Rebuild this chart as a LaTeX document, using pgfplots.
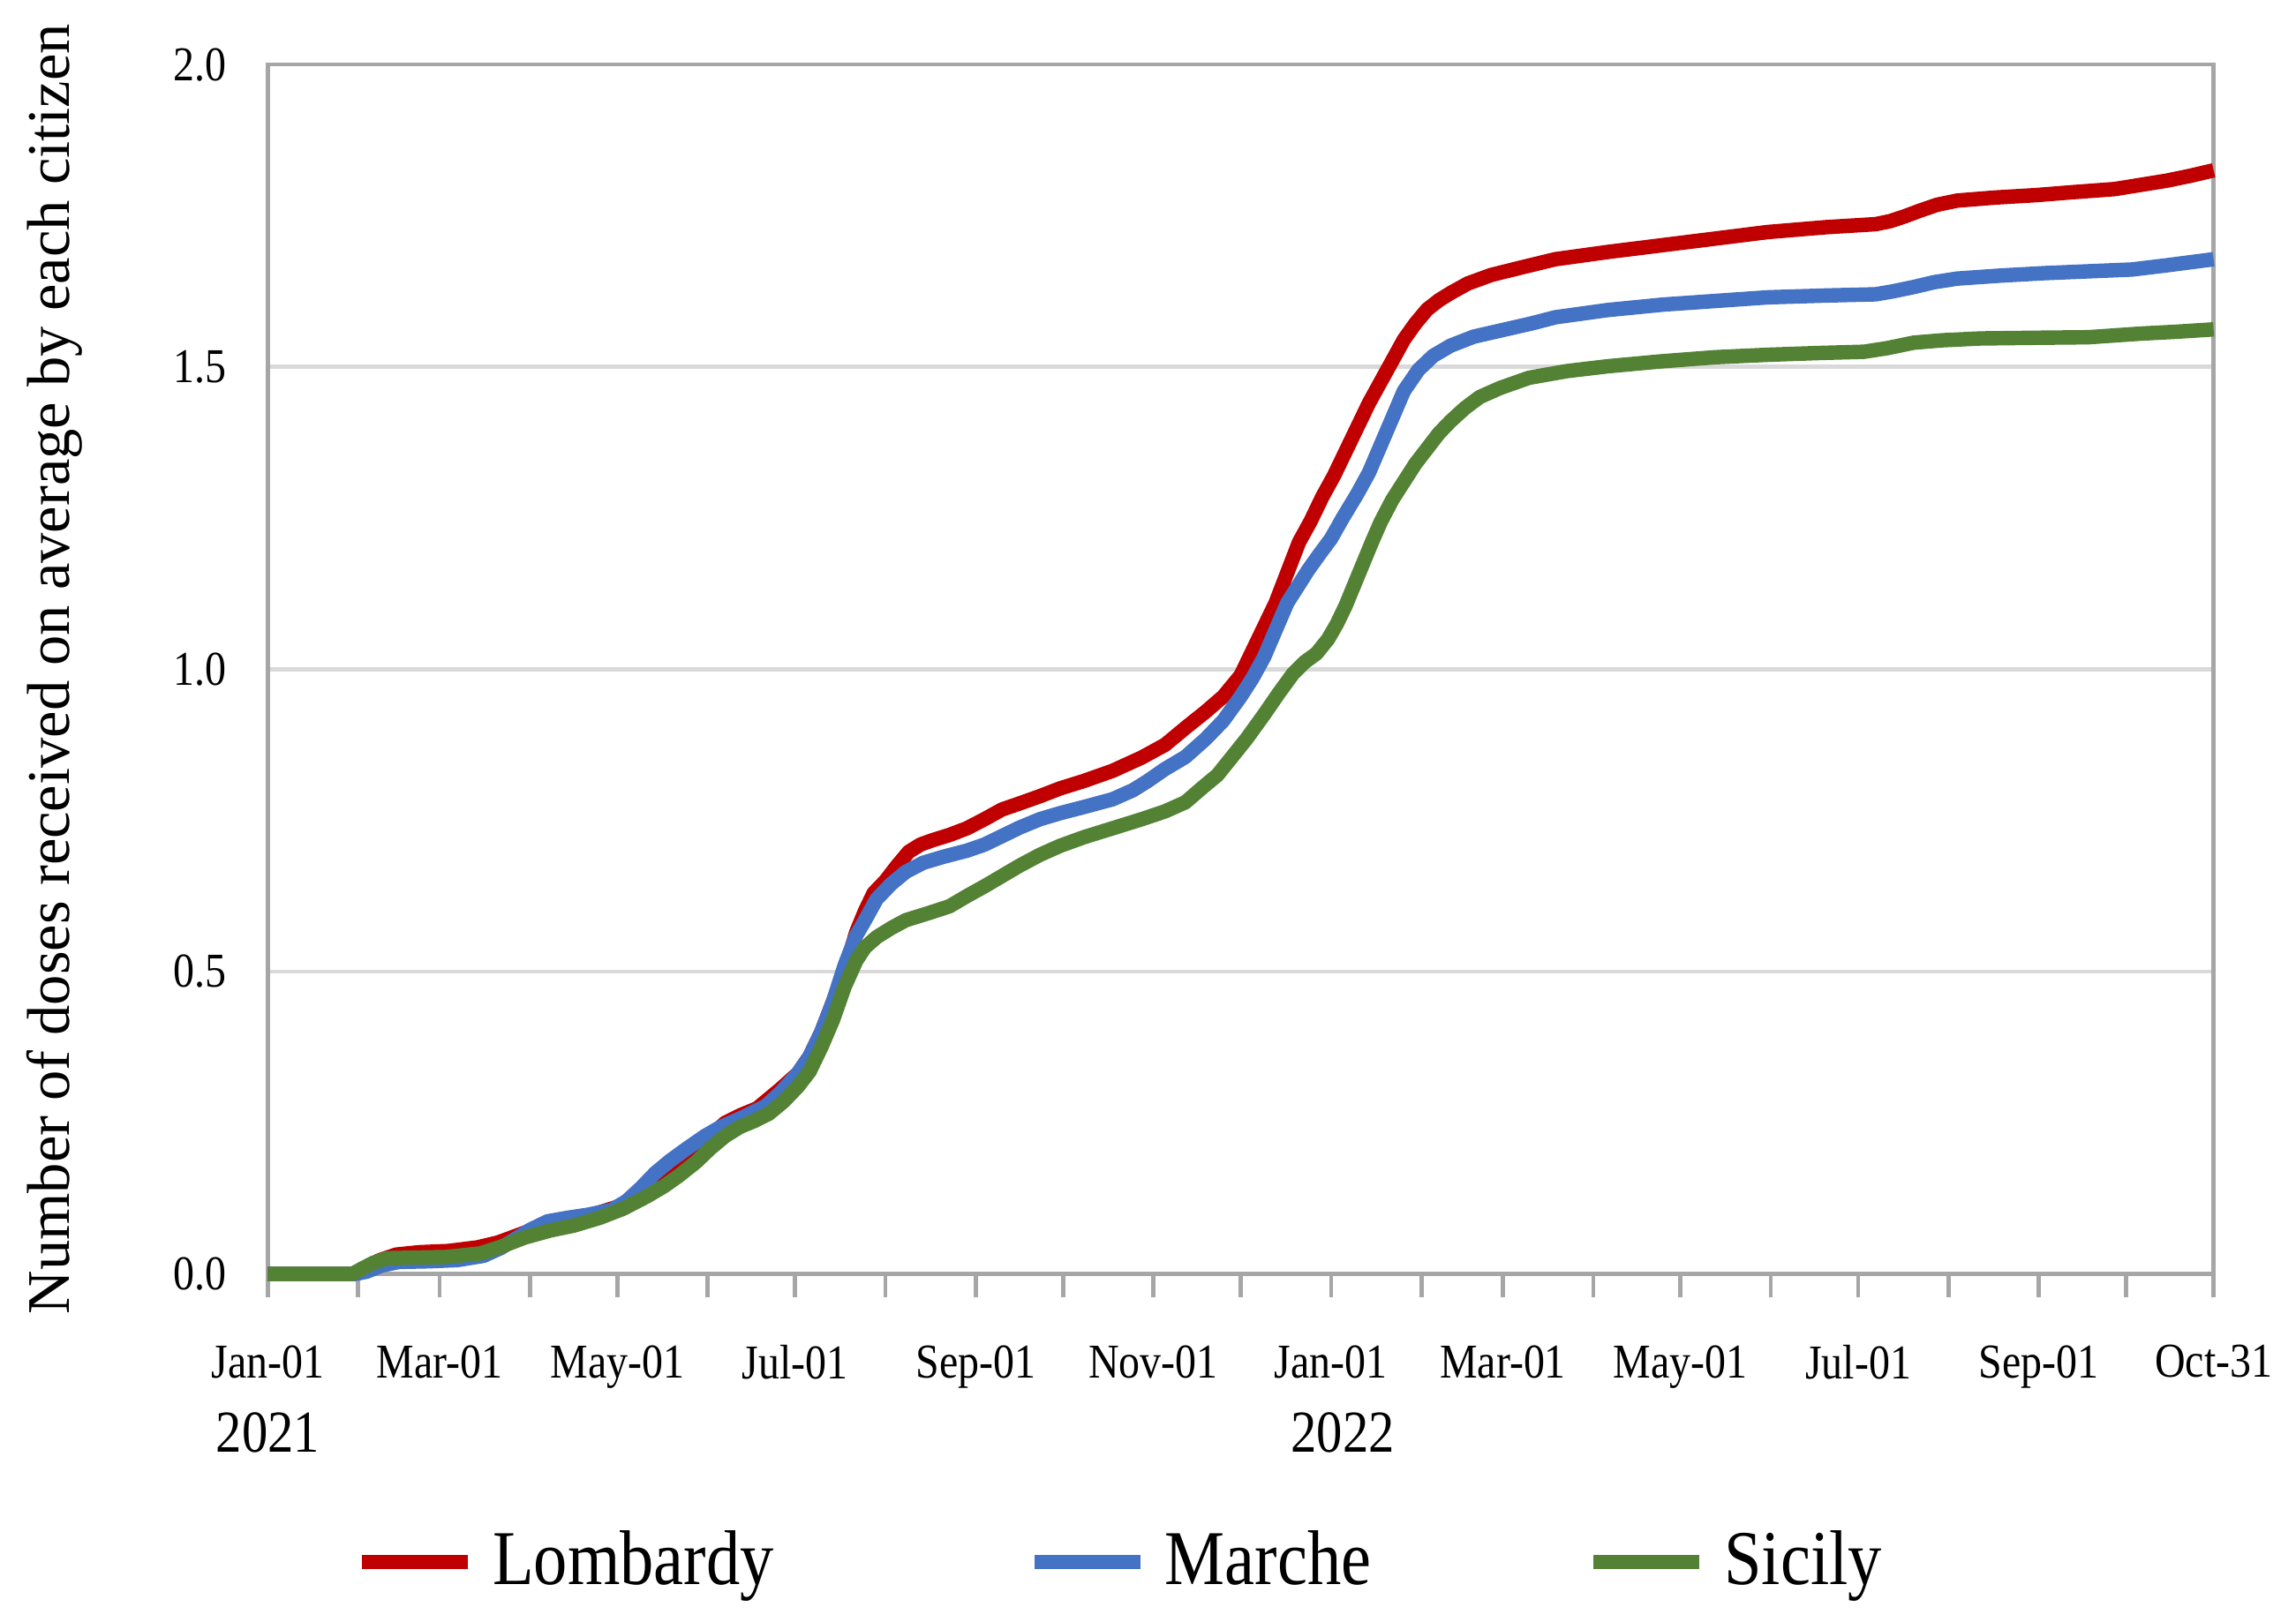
\documentclass[border=0pt]{standalone}
\usepackage{pgfplots}
\pgfplotsset{compat=1.18}
\usepackage{fontspec}
\setmainfont{Liberation Serif}[FakeStretch=0.87]
\newfontfamily\labelfont{Liberation Serif}

\definecolor{lomb}{HTML}{C00000}
\definecolor{marc}{HTML}{4472C4}
\definecolor{sici}{HTML}{548235}
\definecolor{frame}{HTML}{A6A6A6}
\definecolor{gridc}{HTML}{D9D9D9}

\begin{document}
\begin{tikzpicture}
\path[use as bounding box] (-1.82,-2.36) rectangle (13.78,8.66);
\begin{axis}[
    at={(0,0.04)}, anchor=south west,
    width=13.22cm, height=8.22cm, scale only axis,
    xmin=0, xmax=668, ymin=0, ymax=2,
    clip=false,
    axis line style={draw=frame, line width=0.8pt},
    xtick={0,59,120,181,243,304,365,424,485,546,608,668},
    xticklabels={Jan-01,Mar-01,May-01,Jul-01,Sep-01,Nov-01,Jan-01,Mar-01,May-01,Jul-01,Sep-01,Oct-31},
    minor xtick={31,90,151,212,273,334,396,455,516,577,638},
    tick align=outside,
    major tick length=0.16cm, minor tick length=0.16cm,
    xtick style={draw=frame, line width=0.8pt},
    minor tick style={draw=frame, line width=0.8pt},
    xtick pos=bottom,
    ytick={0,0.5,1,1.5,2},
    ytick style={draw=none},
    yticklabel style={/pgf/number format/.cd, fixed, fixed zerofill, precision=1},
    /pgf/number format/assume math mode=true,
    xticklabel style={yshift=-0.2cm},
    tick label style={font=\fontsize{9.4}{11}\selectfont},
    ymajorgrids, grid style={draw=gridc, line width=0.8pt},
    ylabel={Number of doses received on average by each citizen},
    ylabel style={font=\labelfont\fontsize{11.7}{13}\selectfont, at={(axis description cs:-0.0860,0.5)}, anchor=south, rotate=0},
    legend style={at={(0.0440,-0.238)}, anchor=west, legend columns=3, draw=none, inner sep=0pt,
        font=\fontsize{15}{17}\selectfont},
    legend image code/.code={\draw[#1] (0cm,0cm) -- (0.72cm,0cm);},
    every axis plot/.append style={line width=2.8pt, line join=round},
]

% Lombardy
\addplot[color=lomb] coordinates {
(0,0)(29,0)(33,0.008)(38,0.022)(44,0.032)(52,0.036)(62,0.038)(72,0.044)(79,0.052)
(88,0.068)(96,0.082)(104,0.09)(112,0.099)(122,0.114)(128,0.125)(134,0.142)
(139,0.162)(144,0.188)(148,0.21)(152,0.228)(157,0.25)(162,0.262)(168,0.274)
(172,0.29)(176,0.306)(182,0.332)(186,0.36)(190,0.40)(194,0.45)(198,0.50)
(202,0.565)(205,0.60)(208,0.63)(212,0.65)(216,0.675)(220,0.698)(224,0.71)
(228,0.717)(234,0.726)(240,0.737)(246,0.752)(252,0.768)(258,0.778)(265,0.79)
(272,0.803)(280,0.815)(290,0.832)(300,0.854)(308,0.875)(315,0.903)(322,0.93)
(328,0.955)(334,0.99)(338,1.03)(342,1.07)(346,1.11)(350,1.16)(354,1.21)
(358,1.245)(362,1.285)(366,1.32)(370,1.36)(374,1.40)(378,1.44)(382,1.475)
(386,1.51)(390,1.545)(394,1.572)(398,1.595)(402,1.61)(406,1.622)(412,1.638)
(420,1.652)(430,1.664)(442,1.678)(460,1.69)(480,1.702)(500,1.714)(515,1.723)
(535,1.731)(552,1.736)(557,1.741)(562,1.749)(567,1.758)(573,1.768)(580,1.775)
(593,1.78)(607,1.784)(620,1.789)(634,1.794)(643,1.801)(652,1.808)(660,1.816)
(668,1.825)
};
\addlegendentry{\hspace*{0.05cm}\makebox[3.56cm][l]{Lombardy}}

% Marche
\addplot[color=marc] coordinates {
(0,0)(30,0)(34,0.004)(39,0.014)(45,0.02)(55,0.021)(65,0.023)(74,0.03)(80,0.043)
(85,0.058)(90,0.073)(96,0.087)(103,0.093)(110,0.098)(118,0.106)(123,0.12)
(128,0.142)(133,0.167)(138,0.187)(144,0.208)(150,0.228)(155,0.242)(163,0.259)
(171,0.278)(176,0.3)(182,0.332)(186,0.36)(190,0.40)(194,0.45)(198,0.51)
(202,0.56)(205,0.585)(209,0.62)(214,0.645)(219,0.665)(225,0.68)(232,0.69)
(240,0.7)(246,0.71)(252,0.724)(258,0.738)(265,0.752)(272,0.762)(280,0.772)
(290,0.785)(297,0.8)(302,0.815)(308,0.835)(315,0.855)(322,0.885)(328,0.915)
(334,0.955)(338,0.985)(342,1.02)(346,1.065)(350,1.11)(354,1.14)(357,1.163)
(361,1.19)(365,1.216)(369,1.25)(374,1.29)(378,1.325)(382,1.37)(386,1.415)
(390,1.46)(395,1.495)(400,1.518)(406,1.535)(414,1.55)(424,1.561)(434,1.572)
(442,1.582)(460,1.594)(479,1.603)(500,1.61)(515,1.615)(535,1.618)(552,1.62)
(558,1.625)(565,1.632)(572,1.64)(580,1.646)(595,1.651)(610,1.655)(625,1.658)
(640,1.661)(652,1.668)(668,1.678)
};
\addlegendentry{\hspace*{0.05cm}\makebox[2.79cm][l]{Marche}}

% Sicily
\addplot[color=sici] coordinates {
(0,0)(29,0)(32,0.008)(36,0.018)(41,0.026)(50,0.027)(61,0.028)(73,0.034)(80,0.045)
(88,0.06)(97,0.072)(105,0.08)(114,0.093)(122,0.108)(130,0.128)(136,0.145)
(141,0.162)(147,0.185)(152,0.208)(157,0.228)(162,0.243)(167,0.253)(172,0.265)
(177,0.285)(182,0.31)(186,0.335)(190,0.375)(194,0.42)(198,0.475)(202,0.518)
(205,0.54)(209,0.557)(214,0.572)(219,0.585)(227,0.597)(234,0.608)(240,0.625)
(246,0.641)(252,0.658)(258,0.675)(265,0.693)(272,0.708)(280,0.722)(290,0.737)
(300,0.752)(308,0.765)(315,0.78)(321,0.805)(326,0.825)(331,0.855)(336,0.885)
(342,0.925)(347,0.96)(352,0.993)(356,1.012)(360,1.026)(364,1.05)(367,1.075)
(370,1.105)(373,1.14)(376,1.175)(379,1.21)(382,1.243)(386,1.28)(390,1.31)
(394,1.34)(398,1.365)(402,1.39)(406,1.41)(411,1.432)(416,1.45)(423,1.465)
(433,1.482)(446,1.493)(460,1.501)(478,1.509)(497,1.516)(515,1.52)(533,1.523)
(548,1.525)(556,1.531)(565,1.54)(575,1.544)(588,1.547)(605,1.548)(625,1.549)
(643,1.555)(655,1.558)(668,1.562)
};
\addlegendentry{\hspace*{0.05cm}Sicily}

\node[font=\fontsize{11.5}{13}\selectfont] at (axis cs:0,0) [yshift=-1.08cm] {2021};
\node[font=\fontsize{11.5}{13}\selectfont] at (axis cs:369,0) [yshift=-1.08cm] {2022};
\end{axis}
\end{tikzpicture}
\end{document}
